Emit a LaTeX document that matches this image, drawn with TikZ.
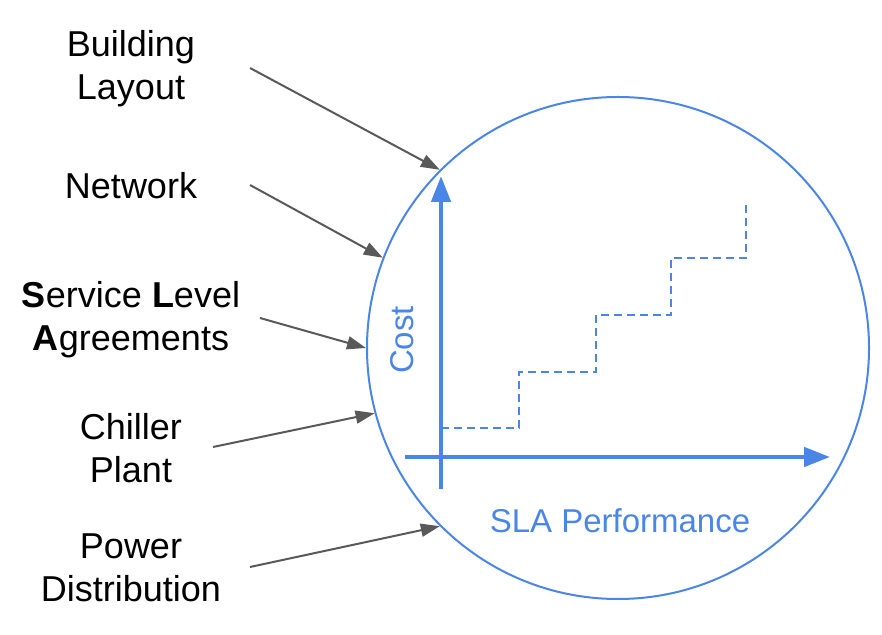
\documentclass[tikz,border=0pt]{standalone}
\usepackage{fontspec}
\setmainfont{Liberation Sans}
\usetikzlibrary{arrows.meta}
\definecolor{slablue}{HTML}{4A86E8}
\definecolor{arrgray}{HTML}{595959}
\tikzset{
  factor/.style={align=center,font=\fontsize{18}{21.5}\selectfont,inner sep=0pt},
  feed/.style={draw=arrgray,line width=1pt,-{Triangle[length=9.5pt,width=6.5pt]}},
  axis/.style={draw=slablue,line width=2.3pt},
  steps/.style={draw=slablue,line width=1pt,dash pattern=on 4pt off 2.5pt}
}

\begin{document}
\begin{tikzpicture}[x=0.5pt,y=-0.5pt]
          \useasboundingbox (0,0) rectangle (882,635);
          \node [circle,draw=slablue,line width=1pt,minimum size=251pt,inner sep=0pt] (plot) at (618,348) {};
          % labels on the left
          \node [factor] (layout) at (131,69) {Building\\Layout};
          \node [factor] (network) at (131,186) {Network};
          \node [factor] (sla) at (131,320) {\textbf{S}ervice \textbf{L}evel\\\textbf{A}greements};
          \node [factor] (chiller) at (131,448) {Chiller\\Plant};
          \node [factor] (power) at (131,568) {Power\\Distribution};
          \coordinate (layout-s) at (250,68);
          \coordinate (network-s) at (250,185);
          \coordinate (sla-s) at (260,318);
          \coordinate (chiller-s) at (213,447);
          \coordinate (power-s) at (250,567);
          \draw [feed] (layout-s) -- (plot.135);
          \draw [feed] (network-s) -- (plot.159.6);
          \draw [feed] (sla-s) -- (plot.180);
          \draw [feed] (chiller-s) -- (plot.195.9);
          \draw [feed] (power-s) -- (plot.225.3);
          % axes
          \coordinate (origin) at (441,457);
          \coordinate (ybot) at (441,489);
          \coordinate (ytop) at (441,176);
          \coordinate (xleft) at (405,457);
          \coordinate (xright) at (830,457);
          \draw [axis,-{Triangle[length=13pt,width=9.5pt]}] (ybot) -- (ytop);
          \draw [axis,-{Triangle[length=13pt,width=9.5pt]}] (xleft) -- (xright);
          \node [rotate=90,text=slablue,font=\fontsize{16.5}{20}\selectfont] (cost) at (402,340) {Cost};
          \node [text=slablue,font=\fontsize{16.5}{20}\selectfont] (perf) at (620,521) {SLA Performance};
          % stepped cost curve
          \draw [steps] (441,428) -- (519,428) -- (519,372) -- (596,372) -- (596,315)
                -- (671,315) -- (671,258) -- (746,258) -- (746,205);
\end{tikzpicture}
\end{document}
